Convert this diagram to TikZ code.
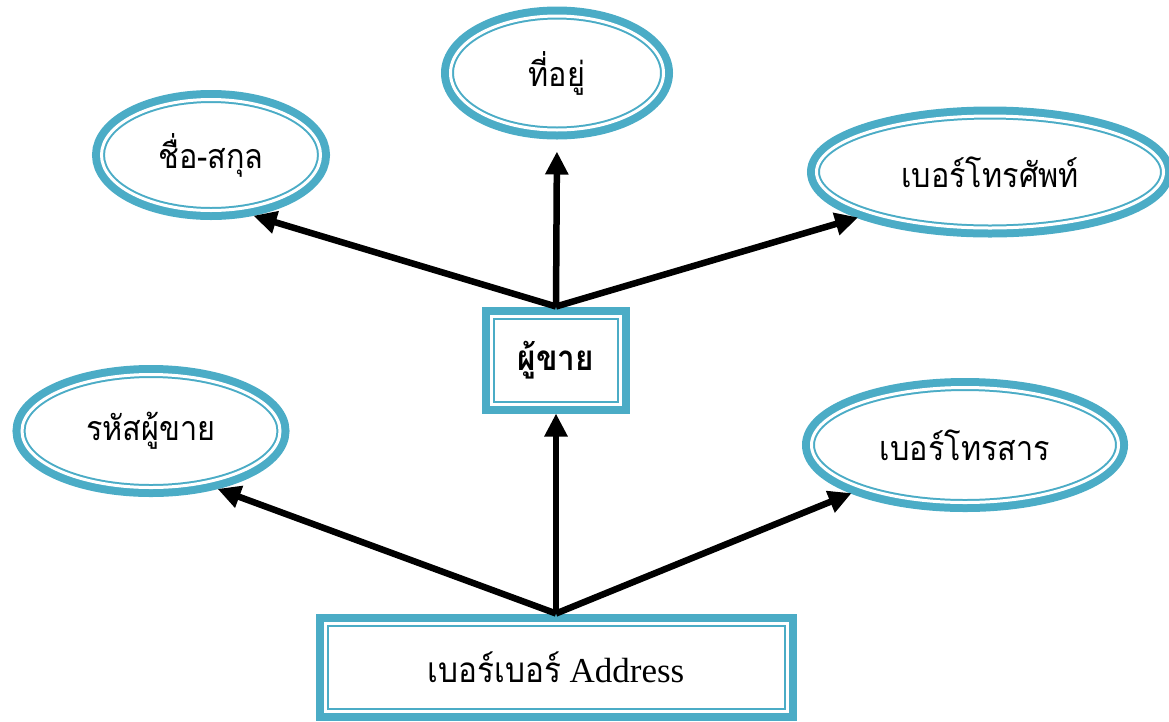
\documentclass[tikz,border=0pt]{standalone}
\usepackage{fontspec}
\setmainfont{Liberation Serif}
\newfontfamily\thaifont[Script=Thai,FakeStretch=0.9]{Loma}
\usetikzlibrary{arrows.meta,shapes.geometric}
\definecolor{erblue}{HTML}{4BACC6}
\tikzset{
    attr/.style={
    ellipse,draw=erblue,fill=white,line width=2pt,double=white,double distance=3pt,
    preaction={draw=erblue,line width=19pt},inner sep=0pt,outer sep=9.5pt,
    font=\thaifont\fontsize{34}{40}\selectfont
    },
    entity/.style={
    rectangle,draw=erblue,fill=white,line width=2pt,double=white,double distance=3pt,
    preaction={draw=erblue,line width=19pt},inner sep=0pt,outer sep=9.5pt,
    font=\fontsize{35}{40}\selectfont
    },
    link/.style={
    -{Triangle[length=23pt,width=22pt]},line width=6.5pt,draw=black
    },
}
\begin{document}
\begin{tikzpicture}[x=1pt,y=-1pt]
   \useasboundingbox (0,0) rectangle (1169,721);
   \node[attr,minimum width=213pt,minimum height=114pt] (addr) at (557,73) {ที่อยู่};
   \node[attr,minimum width=219pt,minimum height=111pt] (name) at (211,155) {ชื่อ-สกุล};
   \node[attr,minimum width=347pt,minimum height=112pt] (phone) at (990,172) {เบอร์โทรศัพท์};
   \node[attr,minimum width=258pt,minimum height=113pt] (sid) at (151,431) {รหัสผู้ขาย};
   \node[attr,minimum width=307pt,minimum height=115pt] (fax) at (965,445) {เบอร์โทรสาร};
   \node[entity,minimum width=129pt,minimum height=88pt] (seller) at (556,360) {\thaifont\bfseries ผู้ขาย};
   \node[entity,minimum width=462pt,minimum height=88pt] (phones) at (556,667) {{\thaifont เบอร์เบอร์} Address};

  \path
    (seller.north) edge[link] (name.-55)
    (seller.north) edge[link,shorten >=12pt] (addr.south)
    (seller.north) edge[link] (phone.199)
    (phones.north) edge[link] (sid.-41)
    (phones.north) edge[link] (seller.south)
    (phones.north) edge[link] (fax.203);
\end{tikzpicture}
\end{document}
